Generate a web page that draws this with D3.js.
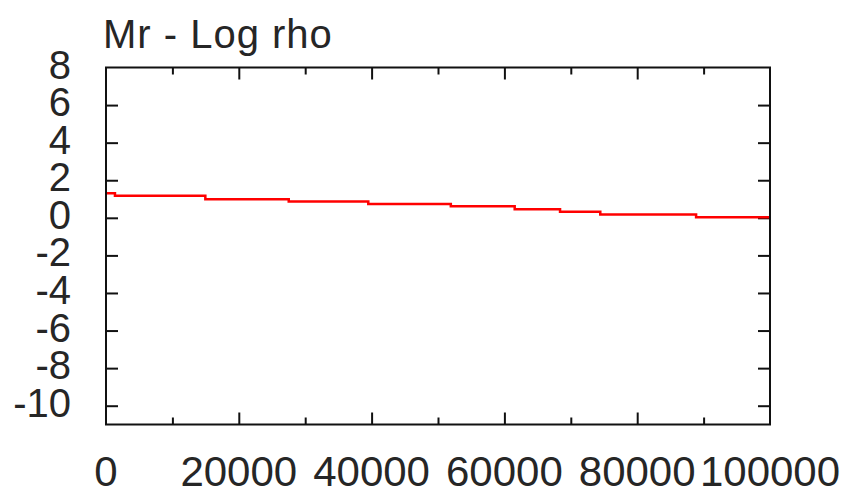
<!DOCTYPE html>
<html>
<head>
<meta charset="utf-8">
<script src="https://cdn.jsdelivr.net/npm/d3@7"></script>
<style>
  html, body { margin: 0; padding: 0; background: #fff; }
  svg { display: block; }
  text { font-family: "Liberation Sans", Arial, sans-serif; fill: #262626; }
</style>
</head>
<body>
<svg id="chart" width="845" height="491"></svg>
<script>
// ---- data ----
const chartTitle = "Mr - Log rho";
const stepX = [0, 1350, 14960, 27520, 39500, 51930, 61550, 68380, 74440, 88870, 100000];
const stepY = [1.31, 1.17, 0.99, 0.87, 0.74, 0.62, 0.46, 0.32, 0.18, 0.03, 0.03];
const xTickValues = [0, 20000, 40000, 60000, 80000, 100000];
const xMinorTickValues = [10000, 30000, 50000, 70000, 90000];
const yTickValues = [-10, -8, -6, -4, -2, 0, 2, 4, 6, 8];
const xDomain = [0, 100000];
const yDomain = [-11, 8];

(function () {
  // ---- layout ----
  const mLeft = 106, mRight = 770, mTop = 67.5, mBottom = 424.5;
  const svg = d3.select("#chart");

  const x = d3.scaleLinear().domain(xDomain).range([mLeft, mRight]);
  const y = d3.scaleLinear().domain(yDomain).range([mBottom, mTop]);

  // title
  svg.append("text")
    .attr("x", 103).attr("y", 47.5)
    .attr("font-size", 40)
    .attr("letter-spacing", 1)
    .text(chartTitle);

  const major = 12, minor = 7;
  function styleAxis(g) {
    g.select(".domain").remove();
    g.selectAll(".tick line").attr("stroke", "#111").attr("stroke-width", 2);
    g.selectAll(".tick text").remove();
  }
  const yInner = yTickValues.filter(v => v > yDomain[0] && v < yDomain[1]);
  svg.append("g").attr("transform", `translate(${mLeft},0)`)
    .call(d3.axisRight(y).tickValues(yInner).tickSize(major)).call(styleAxis);
  svg.append("g").attr("transform", `translate(${mRight},0)`)
    .call(d3.axisLeft(y).tickValues(yInner).tickSize(major)).call(styleAxis);
  svg.append("g").attr("transform", `translate(0,${mBottom})`)
    .call(d3.axisTop(x).tickValues(xTickValues.slice(1, -1)).tickSize(major)).call(styleAxis);
  svg.append("g").attr("transform", `translate(0,${mBottom})`)
    .call(d3.axisTop(x).tickValues(xMinorTickValues).tickSize(minor)).call(styleAxis);
  svg.append("g").attr("transform", `translate(0,${mTop})`)
    .call(d3.axisBottom(x).tickValues(xTickValues.slice(1, -1)).tickSize(major)).call(styleAxis);
  svg.append("g").attr("transform", `translate(0,${mTop})`)
    .call(d3.axisBottom(x).tickValues(xMinorTickValues).tickSize(minor)).call(styleAxis);

  // y tick labels
  svg.append("g").selectAll("text").data(yTickValues).join("text")
    .attr("x", 71)
    .attr("y", d => y(d) + 11)
    .attr("text-anchor", "end")
    .attr("font-size", 40)
    .text(d => d);

  // x tick labels
  svg.append("g").selectAll("text").data(xTickValues).join("text")
    .attr("x", d => x(d))
    .attr("y", 486)
    .attr("text-anchor", "middle")
    .attr("font-size", 42)
    .text(d => d);

  // data line
  const pts = stepX.map((v, i) => [v, stepY[i]]);
  svg.append("path")
    .datum(pts)
    .attr("fill", "none")
    .attr("stroke", "#ff0000")
    .attr("stroke-width", 2.5)
    .attr("d", d3.line().x(d => x(d[0])).y(d => y(d[1])).curve(d3.curveStepAfter));

  // frame
  svg.append("rect")
    .attr("x", mLeft).attr("y", mTop)
    .attr("width", mRight - mLeft).attr("height", mBottom - mTop)
    .attr("fill", "none").attr("stroke", "#111").attr("stroke-width", 2);
})();
</script>
</body>
</html>
